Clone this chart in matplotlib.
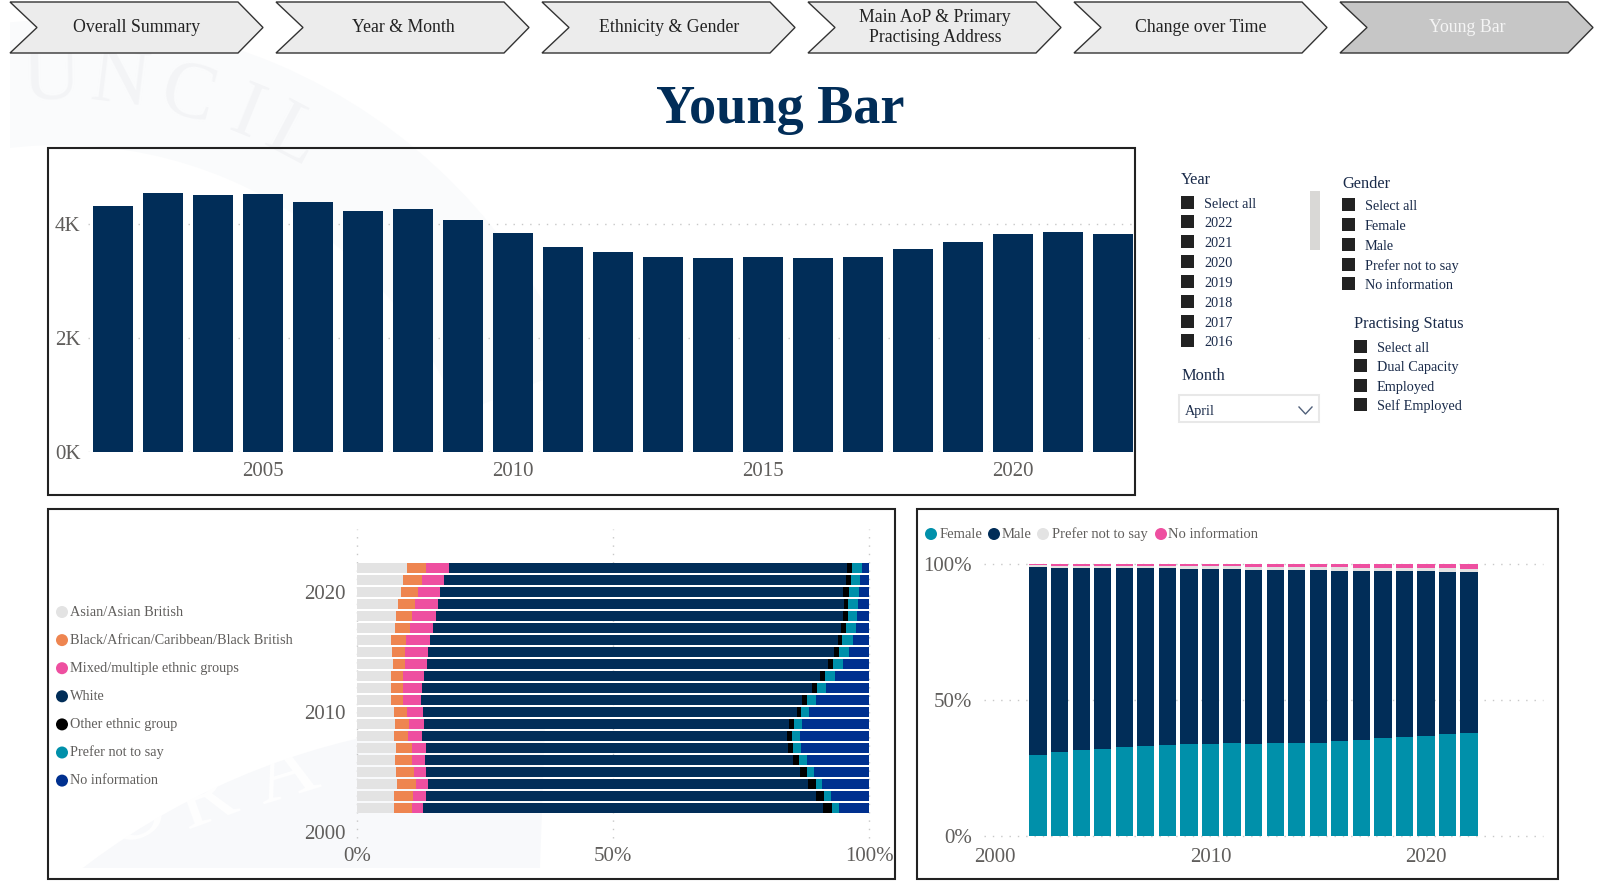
import numpy as np
import matplotlib
matplotlib.use('Agg')
import matplotlib.pyplot as plt
from matplotlib.patches import Polygon, Rectangle, Circle, Wedge

W, H = 1604, 889
SERIF = 'Liberation Serif'
NAVY = '#012d58'
TEAL = '#0090aa'
GREY = '#e3e3e3'
ORANGE = '#ee8550'
PINK = '#ee4fa0'
BLUE = '#00308f'
TICK = '#605e5c'
INK = '#1a2b4a'

# top chart
years = list(range(2002, 2023))
barristers = [4325, 4553, 4523, 4541, 4389, 4231, 4266, 4073, 3845, 3605, 3518,
              3430, 3406, 3424, 3406, 3424, 3570, 3693, 3827, 3863, 3827]

# ethnicity shares, 2002 to 2022
asian = [7.23, 7.29, 7.88, 7.55, 7.42, 7.55, 7.16, 7.42, 7.29, 6.64, 6.64,
         6.58, 7.03, 6.77, 6.64, 7.42, 7.62, 8.07, 8.53, 9.05, 9.77]
black = [3.45, 3.58, 3.58, 3.52, 3.39, 3.26, 2.80, 2.67, 2.54, 2.28, 2.28,
         2.34, 2.35, 2.54, 2.87, 2.87, 3.12, 3.19, 3.45, 3.58, 3.77]
mixed = [2.21, 2.54, 2.41, 2.34, 2.47, 2.60, 2.74, 2.93, 3.06, 3.58, 3.71,
         4.17, 4.36, 4.49, 4.68, 4.62, 4.62, 4.63, 4.30, 4.30, 4.43]
white = [78.19, 76.30, 74.28, 73.17, 71.94, 70.70, 71.34, 71.42, 72.98, 74.47, 76.30,
         77.40, 78.18, 79.29, 79.69, 79.68, 79.62, 79.16, 78.70, 78.51, 77.67]
other = [1.69, 1.43, 1.49, 1.37, 1.10, 1.04, 0.92, 0.97, 0.91, 0.85, 0.91,
         0.85, 1.04, 1.11, 0.91, 0.91, 0.85, 0.84, 1.17, 1.04, 1.10]
eth_prefer = [1.30, 1.37, 1.24, 1.30, 1.50, 1.50, 1.49, 1.50, 1.43, 1.76, 1.69,
              1.95, 1.89, 1.95, 2.01, 1.89, 1.89, 1.89, 1.83, 1.82, 1.89]
eth_none = [5.93, 7.49, 9.12, 10.75, 12.18, 13.35, 13.55, 13.09, 11.79, 10.42, 8.47,
            6.71, 5.15, 3.85, 3.20, 2.61, 2.28, 2.22, 2.02, 1.70, 1.37]
eth_labels = ['Asian/Asian British', 'Black/African/Caribbean/Black British',
              'Mixed/multiple ethnic groups', 'White', 'Other ethnic group',
              'Prefer not to say', 'No information']

# gender shares, 2002 to 2022
female = [29.90, 30.76, 31.50, 31.99, 32.60, 33.21, 33.58, 33.70, 33.82, 34.07, 33.95,
          34.07, 34.19, 34.31, 34.80, 35.17, 35.90, 36.28, 36.89, 37.38, 37.75]
male = [69.12, 67.89, 67.03, 66.54, 65.93, 65.32, 64.83, 64.58, 64.34, 64.09, 63.97,
        63.72, 63.60, 63.36, 62.75, 62.26, 61.53, 61.02, 60.41, 59.80, 59.43]
gen_prefer = [0.49, 0.74, 0.73, 0.73, 0.73, 0.73, 0.85, 0.98, 1.10, 0.98, 1.10,
              1.23, 1.11, 1.23, 1.22, 1.22, 1.22, 1.23, 1.10, 1.22, 1.12]
gen_none = [0.49, 0.61, 0.74, 0.74, 0.74, 0.74, 0.74, 0.74, 0.74, 0.86, 0.98,
            0.98, 1.10, 1.10, 1.23, 1.35, 1.35, 1.47, 1.60, 1.60, 1.70]
gen_labels = ['Female', 'Male', 'Prefer not to say', 'No information']

nav_labels = ['Overall Summary', 'Year & Month', 'Ethnicity & Gender',
              'Main AoP & Primary\nPractising Address', 'Change over Time', 'Young Bar']
year_items = ['Select all', '2022', '2021', '2020', '2019', '2018', '2017', '2016']
gender_items = ['Select all', 'Female', 'Male', 'Prefer not to say', 'No information']
status_items = ['Select all', 'Dual Capacity', 'Employed', 'Self Employed']

plt.rcParams['font.family'] = [SERIF, 'DejaVu Serif']


def px_axes(fig, x0, y0, x1, y1):
    ax = fig.add_axes([x0 / W, 1 - y1 / H, (x1 - x0) / W, (y1 - y0) / H])
    ax.patch.set_alpha(0)
    for s in ax.spines.values():
        s.set_visible(False)
    ax.tick_params(length=0, labelsize=15, labelcolor=TICK)
    return ax


def dotted_grid(ax, axis):
    ax.grid(True, axis=axis, color='#c8c8c8', linestyle=(0, (1, 5)), linewidth=1)
    ax.set_axisbelow(True)


def watermark(bg):
    # faint seal behind the charts
    clip = Rectangle((10, 0), W, 868, transform=bg.transData)
    top_band = Wedge((60, 575), 555, -112, -22, width=125, facecolor='#fafbfc', edgecolor='none')
    low_band = Wedge((520, 1440), 720, -150, -88, width=165, facecolor='#f8f9fb', edgecolor='none')
    for band in (top_band, low_band):
        bg.add_patch(band)
        band.set_clip_path(clip)
    for ch, a in [('U', -91), ('N', -83), ('C', -75), ('I', -68), ('L', -62)]:
        r = np.radians(a)
        bg.text(60 + 495 * np.cos(r), 575 + 495 * np.sin(r), ch, fontsize=58, color='#f3f4f6',
                rotation=-a - 90, ha='center', va='center', zorder=1)
    for ch, x, y, rot in [('F', 72, 825, 30), ('O', 135, 815, 25), ('R', 207, 800, 20), ('A', 286, 775, 17)]:
        bg.text(x, y, ch, fontsize=62, color='#ffffff', rotation=rot, ha='center', va='center', zorder=1)


def nav_bar(bg):
    for i, label in enumerate(nav_labels):
        x = 10 + 266 * i
        pts = [(x, 2), (x + 228, 2), (x + 253, 27.5), (x + 228, 53), (x, 53), (x + 27, 27.5)]
        active = i == len(nav_labels) - 1
        bg.add_patch(Polygon(pts, closed=True, facecolor='#c6c6c6' if active else '#ececec',
                             edgecolor='#333333', linewidth=1, zorder=2))
        bg.text(x + 127, 27.5, label, fontsize=12.8, ha='center', va='center',
                color='#f5f5f5' if active else '#222222', linespacing=1.3, zorder=3)


def slicer(bg, title, tx, ty, items, sx, centres, tsize=11.8):
    bg.text(tx, ty + 1.5, title, fontsize=tsize, color=INK, va='center', zorder=3)
    for item, cy in zip(items, centres):
        bg.add_patch(Rectangle((sx, cy - 7), 13, 13, facecolor='#222222', edgecolor='none', zorder=3))
        bg.text(sx + 23, cy + 1.5, item, fontsize=10.3, color=INK, va='center', zorder=3)


def main():
    fig = plt.figure(figsize=(W / 100, H / 100), dpi=100, facecolor='white')
    bg = fig.add_axes([0, 0, 1, 1])
    bg.set_xlim(0, W)
    bg.set_ylim(H, 0)
    bg.axis('off')

    watermark(bg)
    nav_bar(bg)
    bg.text(780, 110, 'Young Bar', fontsize=39, fontweight='bold', color=NAVY, ha='center', va='center')

    for x0, y0, x1, y1 in [(48, 148, 1135, 495), (48, 509, 895, 879), (917, 509, 1558, 879)]:
        bg.add_patch(Rectangle((x0, y0), x1 - x0, y1 - y0, facecolor='none', edgecolor='#222222',
                               linewidth=1.5, zorder=4))

    # slicers on the right of the top chart
    slicer(bg, 'Year', 1181, 179, year_items, 1181, [203, 222, 242, 262, 282, 302, 322, 341])
    bg.add_patch(Rectangle((1310, 191), 10, 59, facecolor='#d9d8d6', edgecolor='none'))
    slicer(bg, 'Gender', 1342, 182, gender_items, 1342, [205, 225, 245, 265, 284])
    slicer(bg, 'Practising Status', 1354, 323, status_items, 1354, [347, 366, 386, 405])
    bg.text(1181, 376.5, 'Month', fontsize=11.8, color=INK, va='center')
    bg.add_patch(Rectangle((1179, 395), 140, 27, facecolor='white', edgecolor='#e8e8e8', linewidth=1.5))
    bg.text(1185, 411.5, 'April', fontsize=10.3, color=INK, va='center')
    bg.plot([1299, 1305.5, 1312], [407, 414, 407], color='#50607a', linewidth=1)

    # top chart
    ax = px_axes(fig, 88, 148, 1133, 452.5)
    ax.bar(years, barristers, width=0.8, color=NAVY)
    ax.set_xlim(2002 - (113 - 88) / 50, 2022 + (1133 - 1113) / 50)
    ax.set_ylim(0, (452.5 - 148) / 57 * 1000)
    ax.set_xticks([2005, 2010, 2015, 2020])
    ax.set_yticks([0, 2000, 4000], ['0K', '2K', '4K'])
    ax.tick_params(axis='x', pad=7.2)
    ax.tick_params(axis='y', pad=5.5)
    dotted_grid(ax, 'y')

    # ethnicity chart
    ax = px_axes(fig, 357, 529, 869, 838)
    series = [asian, black, mixed, white, other, eth_prefer, eth_none]
    colours = [GREY, ORANGE, PINK, NAVY, 'black', TEAL, BLUE]
    left = np.zeros(len(years))
    for vals, c in zip(series, colours):
        ax.barh(years, vals, left=left, height=0.8, color=c)
        left += np.array(vals)
    ax.set_xlim(0, 100)
    ax.set_ylim(2000 - 6 / 12, 2000 + (832 - 529) / 12)
    ax.set_xticks([0, 50, 100], ['0%', '50%', '100%'])
    ax.set_yticks([2000, 2010, 2020])
    ax.tick_params(axis='x', pad=6.2)
    ax.tick_params(axis='y', pad=8.5)
    dotted_grid(ax, 'x')
    for line in ax.get_xgridlines():
        line.set_clip_on(False)
    for i, (label, c) in enumerate(zip(eth_labels, colours)):
        cy = 612 + i * 28.1
        bg.add_patch(Circle((62, cy), 6, facecolor=c, edgecolor='none', zorder=3))
        bg.text(70, cy, label, fontsize=10.3, color=TICK, va='center', zorder=3)

    # gender chart
    ax = px_axes(fig, 984, 564, 1543, 836)
    series = [female, male, gen_prefer, gen_none]
    colours = [TEAL, NAVY, GREY, PINK]
    bottom = np.zeros(len(years))
    for vals, c in zip(series, colours):
        ax.bar(years, vals, bottom=bottom, width=0.8, color=c)
        bottom += np.array(vals)
    ax.set_xlim(2000 - 11 / 21.55, 2000 + (1543 - 995) / 21.55)
    ax.set_ylim(0, 100)
    ax.set_xticks([2000, 2010, 2020])
    ax.set_yticks([0, 50, 100], ['0%', '50%', '100%'])
    ax.tick_params(axis='x', pad=8.7)
    ax.tick_params(axis='y', pad=8.5)
    dotted_grid(ax, 'y')
    for line in ax.get_ygridlines():
        line.set_clip_on(False)
    for label, c, cx, tx in zip(gen_labels, colours, [931, 994, 1043, 1161], [940, 1002, 1052, 1168]):
        bg.add_patch(Circle((cx, 534), 6, facecolor=c, edgecolor='none', zorder=3))
        bg.text(tx, 534, label, fontsize=10.5, color=TICK, va='center', zorder=3)

    fig.savefig('out.png', dpi=100)


if __name__ == '__main__':
    main()
